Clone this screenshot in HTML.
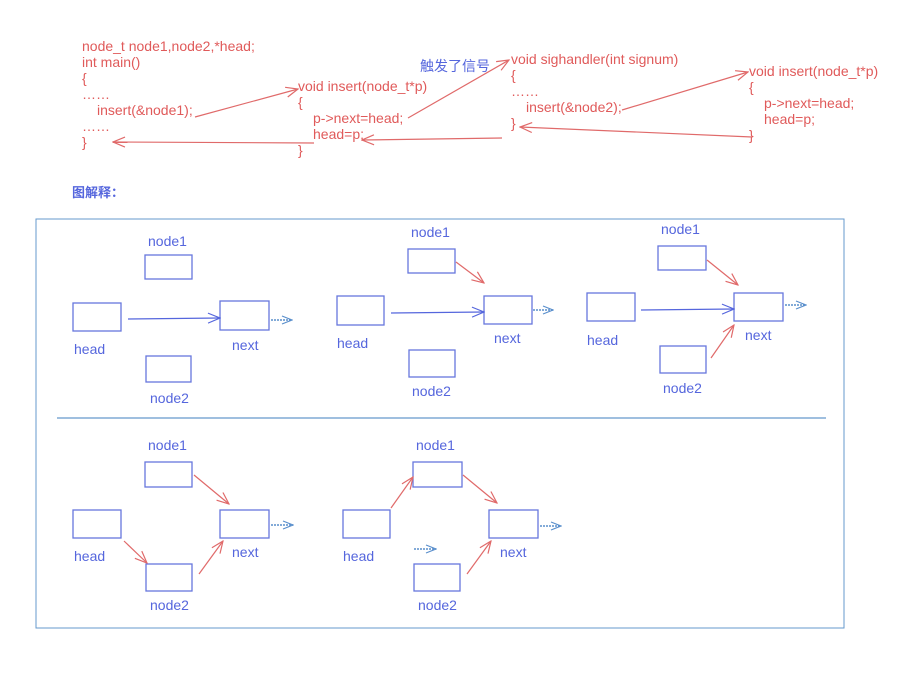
<!DOCTYPE html>
<html><head><meta charset="utf-8"><style>
html,body{margin:0;padding:0;background:#fff;}
svg{display:block;}
.r{fill:#e05a5a;font-family:"Liberation Sans","Noto Sans CJK SC",sans-serif;font-size:14px;}
.b{fill:#5566dd;font-family:"Liberation Sans","Noto Sans CJK SC",sans-serif;font-size:14px;}
.bx{fill:none;stroke:#6677dd;stroke-width:1.3;}
.ra{stroke:#e06a6a;stroke-width:1.2;fill:none;}
.ba{stroke:#5566dd;stroke-width:1.2;fill:none;}
.da{stroke:#5a8fcc;stroke-width:1.6;fill:none;stroke-dasharray:2 1;}
</style></head><body>
<svg width="910" height="673" xmlns="http://www.w3.org/2000/svg">
<defs>
<marker id="mr" markerWidth="14" markerHeight="12" refX="13" refY="6" orient="auto" markerUnits="userSpaceOnUse"><polyline points="1,1 13,6 1,11" fill="none" stroke="#e06a6a" stroke-width="1.2"/></marker>
<marker id="mb" markerWidth="14" markerHeight="12" refX="13" refY="6" orient="auto" markerUnits="userSpaceOnUse"><polyline points="1,1 13,6 1,11" fill="none" stroke="#5566dd" stroke-width="1.2"/></marker>
<marker id="md" markerWidth="12" markerHeight="10" refX="11" refY="5" orient="auto" markerUnits="userSpaceOnUse"><polyline points="1,1 11,5 1,9" fill="none" stroke="#5a8fcc" stroke-width="1.2"/></marker>
</defs>
<text class="r" x="82" y="51">node_t node1,node2,*head;</text>
<text class="r" x="82" y="67">int main()</text>
<text class="r" x="82" y="83">{</text>
<text class="r" x="82" y="99">……</text>
<text class="r" x="97" y="115">insert(&amp;node1);</text>
<text class="r" x="82" y="131">……</text>
<text class="r" x="82" y="147">}</text>

<text class="r" x="298" y="91">void insert(node_t*p)</text>
<text class="r" x="298" y="107">{</text>
<text class="r" x="313" y="123">p-&gt;next=head;</text>
<text class="r" x="313" y="139">head=p;</text>
<text class="r" x="298" y="155">}</text>

<text class="b" x="420" y="71">触发了信号</text>

<text class="r" x="511" y="64">void sighandler(int signum)</text>
<text class="r" x="511" y="80">{</text>
<text class="r" x="511" y="96">……</text>
<text class="r" x="526" y="112">insert(&amp;node2);</text>
<text class="r" x="511" y="128">}</text>

<text class="r" x="749" y="76">void insert(node_t*p)</text>
<text class="r" x="749" y="92">{</text>
<text class="r" x="764" y="108">p-&gt;next=head;</text>
<text class="r" x="764" y="124">head=p;</text>
<text class="r" x="749" y="140">}</text>

<line class="ra" x1="195" y1="117" x2="298" y2="89" marker-end="url(#mr)"/>
<line class="ra" x1="408" y1="118" x2="509" y2="60" marker-end="url(#mr)"/>
<line class="ra" x1="622" y1="110" x2="748" y2="72" marker-end="url(#mr)"/>
<line class="ra" x1="752" y1="137" x2="520" y2="127" marker-end="url(#mr)"/>
<line class="ra" x1="502" y1="138" x2="362" y2="140" marker-end="url(#mr)"/>
<line class="ra" x1="314" y1="143" x2="113" y2="142" marker-end="url(#mr)"/>

<text x="72" y="197" style="fill:#5566dd;font-family:'Liberation Sans','Noto Sans CJK SC',sans-serif;font-size:13px;font-weight:bold">图解释：</text>

<rect x="36" y="219" width="808" height="409" fill="none" stroke="#6699cc" stroke-width="1"/>
<line x1="57" y1="418" x2="826" y2="418" stroke="#6699cc" stroke-width="1.2"/>

<rect class="bx" x="145" y="255" width="47" height="24"/><text class="b" x="148" y="246">node1</text>
<rect class="bx" x="73" y="303" width="48" height="28"/><text class="b" x="74" y="354">head</text>
<rect class="bx" x="220" y="301" width="49" height="29"/><text class="b" x="232" y="350">next</text>
<rect class="bx" x="146" y="356" width="45" height="26"/><text class="b" x="150" y="403">node2</text>
<line class="ba" x1="128" y1="319" x2="220" y2="318" marker-end="url(#mb)"/>
<line class="da" x1="271" y1="320" x2="292" y2="320" marker-end="url(#md)"/>

<rect class="bx" x="408" y="249" width="47" height="24"/><text class="b" x="411" y="237">node1</text>
<rect class="bx" x="337" y="296" width="47" height="29"/><text class="b" x="337" y="348">head</text>
<rect class="bx" x="484" y="296" width="48" height="28"/><text class="b" x="494" y="343">next</text>
<rect class="bx" x="409" y="350" width="46" height="27"/><text class="b" x="412" y="396">node2</text>
<line class="ra" x1="456" y1="262" x2="484" y2="283" marker-end="url(#mr)"/>
<line class="ba" x1="391" y1="313" x2="484" y2="312" marker-end="url(#mb)"/>
<line class="da" x1="533" y1="310" x2="553" y2="310" marker-end="url(#md)"/>

<rect class="bx" x="658" y="246" width="48" height="24"/><text class="b" x="661" y="234">node1</text>
<rect class="bx" x="587" y="293" width="48" height="28"/><text class="b" x="587" y="345">head</text>
<rect class="bx" x="734" y="293" width="49" height="28"/><text class="b" x="745" y="340">next</text>
<rect class="bx" x="660" y="346" width="46" height="27"/><text class="b" x="663" y="393">node2</text>
<line class="ra" x1="707" y1="260" x2="738" y2="285" marker-end="url(#mr)"/>
<line class="ra" x1="711" y1="358" x2="734" y2="325" marker-end="url(#mr)"/>
<line class="ba" x1="641" y1="310" x2="734" y2="309" marker-end="url(#mb)"/>
<line class="da" x1="785" y1="305" x2="806" y2="305" marker-end="url(#md)"/>

<rect class="bx" x="145" y="462" width="47" height="25"/><text class="b" x="148" y="450">node1</text>
<rect class="bx" x="73" y="510" width="48" height="28"/><text class="b" x="74" y="561">head</text>
<rect class="bx" x="220" y="510" width="49" height="28"/><text class="b" x="232" y="557">next</text>
<rect class="bx" x="146" y="564" width="46" height="27"/><text class="b" x="150" y="610">node2</text>
<line class="ra" x1="194" y1="475" x2="229" y2="504" marker-end="url(#mr)"/>
<line class="ra" x1="124" y1="541" x2="147" y2="563" marker-end="url(#mr)"/>
<line class="ra" x1="199" y1="574" x2="223" y2="541" marker-end="url(#mr)"/>
<line class="da" x1="271" y1="525" x2="293" y2="525" marker-end="url(#md)"/>

<rect class="bx" x="413" y="462" width="49" height="25"/><text class="b" x="416" y="450">node1</text>
<rect class="bx" x="343" y="510" width="47" height="28"/><text class="b" x="343" y="561">head</text>
<rect class="bx" x="489" y="510" width="49" height="28"/><text class="b" x="500" y="557">next</text>
<rect class="bx" x="414" y="564" width="46" height="27"/><text class="b" x="418" y="610">node2</text>
<line class="ra" x1="391" y1="508" x2="413" y2="477" marker-end="url(#mr)"/>
<line class="ra" x1="463" y1="475" x2="497" y2="503" marker-end="url(#mr)"/>
<line class="ra" x1="467" y1="574" x2="491" y2="541" marker-end="url(#mr)"/>
<line class="da" x1="540" y1="526" x2="561" y2="526" marker-end="url(#md)"/>
<line class="da" x1="414" y1="549" x2="436" y2="549" marker-end="url(#md)"/>
</svg>
</body></html>
